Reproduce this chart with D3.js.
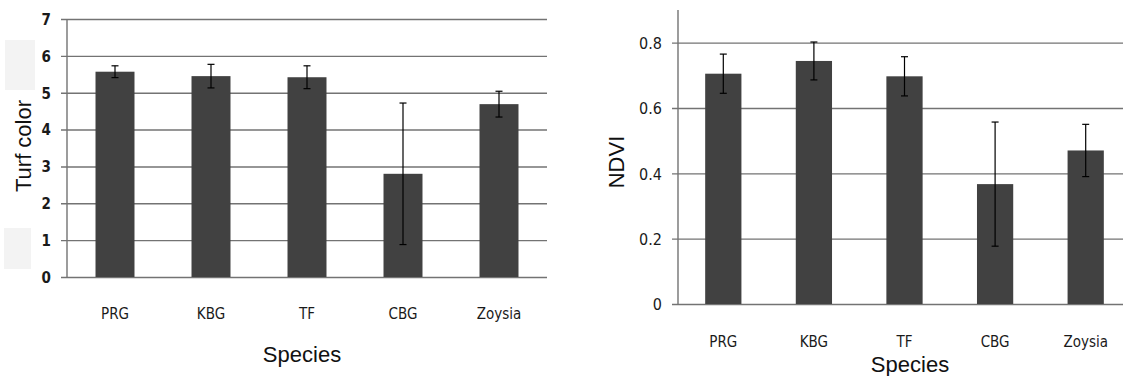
<!DOCTYPE html>
<html>
<head>
<meta charset="utf-8">
<script src="https://cdn.jsdelivr.net/npm/d3@7"></script>
<style>
  body { margin: 0; background: #fff; }
  svg text { font-family: "Liberation Sans Narrow", "DejaVu Sans Condensed", "Liberation Sans", Arial, sans-serif; fill: #1a1a1a; }
  .title { font-family: "Liberation Sans", Arial, sans-serif !important; fill: #111 !important; }
</style>
</head>
<body>
<svg id="chart" width="1123" height="376"></svg>
<script>
const species = ["PRG", "KBG", "TF", "CBG", "Zoysia"];

// left panel: turf colour
const turfMean = [5.57, 5.45, 5.42, 2.80, 4.69];
const turfErr  = [0.16, 0.32, 0.31, 1.92, 0.35];
const turfTicks = [0, 1, 2, 3, 4, 5, 6, 7];

// right panel: NDVI
const ndviMean = [0.705, 0.744, 0.697, 0.367, 0.470];
const ndviErr  = [0.060, 0.058, 0.060, 0.190, 0.080];
const ndviTicks = [0, 0.2, 0.4, 0.6, 0.8];

const svg = d3.select("#chart");
const barColor = "#414141";
const gridColor = "#737373";

// faint grey patches left of the first chart
svg.append("rect").attr("x", 5).attr("y", 40).attr("width", 30).attr("height", 50).attr("fill", "#f3f3f3");
svg.append("rect").attr("x", 4).attr("y", 228).attr("width", 27).attr("height", 41).attr("fill", "#f3f3f3");

function drawPanel(opts) {
  const g = svg.append("g");
  const x = d3.scaleBand()
    .domain(species)
    .range([opts.left, opts.right])
    .paddingInner(opts.pad)
    .paddingOuter(opts.pad / 2);
  const y = d3.scaleLinear()
    .domain([0, opts.ymax])
    .range([opts.bottom, opts.top]);

  // gridlines + ticks
  const yAxis = g.append("g")
    .attr("transform", "translate(" + opts.left + ",0)")
    .call(d3.axisLeft(y).tickValues(opts.ticks).tickSize(0).tickFormat(d => d3.format(opts.fmt)(d)));
  yAxis.select(".domain").remove();
  yAxis.selectAll(".tick text")
    .attr("x", opts.labelX - opts.left)
    .attr("dy", "0.36em")
    .style("font-size", opts.tickFont + "px")
    .style("font-weight", opts.tickWeight);
  yAxis.selectAll(".tick").append("line")
    .attr("x1", -6).attr("x2", opts.gridRight - opts.left)
    .attr("stroke", gridColor).attr("stroke-width", 1.4);

  // y axis line
  g.append("line")
    .attr("x1", opts.left).attr("x2", opts.left)
    .attr("y1", y(opts.ymax)).attr("y2", y(0))
    .attr("stroke", gridColor).attr("stroke-width", 1.4);

  // bars
  g.selectAll(".bar")
    .data(opts.mean)
    .enter()
    .append("rect")
    .attr("x", (d, i) => x(species[i]))
    .attr("y", d => y(d))
    .attr("width", x.bandwidth())
    .attr("height", d => y(0) - y(d))
    .attr("fill", barColor);

  // error bars
  const eb = g.selectAll(".err")
    .data(opts.mean)
    .enter()
    .append("g")
    .attr("transform", (d, i) => "translate(" + (x(species[i]) + x.bandwidth() / 2) + ",0)");
  eb.append("line")
    .attr("y1", (d, i) => y(d + opts.err[i]))
    .attr("y2", (d, i) => y(d - opts.err[i]))
    .attr("stroke", "#000").attr("stroke-width", 1.2);
  eb.append("line")
    .attr("x1", -3.5).attr("x2", 3.5)
    .attr("y1", (d, i) => y(d + opts.err[i])).attr("y2", (d, i) => y(d + opts.err[i]))
    .attr("stroke", "#000").attr("stroke-width", 1.2);
  eb.append("line")
    .attr("x1", -3.5).attr("x2", 3.5)
    .attr("y1", (d, i) => y(d - opts.err[i])).attr("y2", (d, i) => y(d - opts.err[i]))
    .attr("stroke", "#000").attr("stroke-width", 1.2);

  // category labels
  g.selectAll(".cat")
    .data(species)
    .enter()
    .append("text")
    .attr("x", d => x(d) + x.bandwidth() / 2)
    .attr("y", opts.catY)
    .attr("text-anchor", "middle")
    .style("font-size", "15px")
    .text(d => d);

  // axis titles
  g.append("text")
    .attr("class", "title")
    .attr("x", opts.xTitleX).attr("y", opts.xTitleY)
    .attr("text-anchor", "middle")
    .style("font-size", "22px")
    .text("Species");
  g.append("text")
    .attr("class", "title")
    .attr("transform", "translate(" + opts.yTitleX + "," + opts.yTitleY + ") rotate(-90)")
    .attr("text-anchor", "middle")
    .style("font-size", "22px")
    .text(opts.yTitle);
}

drawPanel({
  left: 67, right: 547, gridRight: 547, top: 19, bottom: 277, ymax: 7, pad: 0.594,
  ticks: turfTicks, fmt: "d", mean: turfMean, err: turfErr, labelX: 51, tickFont: 15, tickWeight: "bold",
  catY: 319, xTitleX: 302, xTitleY: 362, yTitle: "Turf color", yTitleX: 31, yTitleY: 146
});

drawPanel({
  left: 678, right: 1131, gridRight: 1123, top: 10, bottom: 304, ymax: 0.9, pad: 0.6,
  ticks: ndviTicks, fmt: "", mean: ndviMean, err: ndviErr, labelX: 662, tickFont: 16, tickWeight: "normal",
  catY: 347, xTitleX: 910, xTitleY: 372, yTitle: "NDVI", yTitleX: 624, yTitleY: 162
});
</script>
</body>
</html>
